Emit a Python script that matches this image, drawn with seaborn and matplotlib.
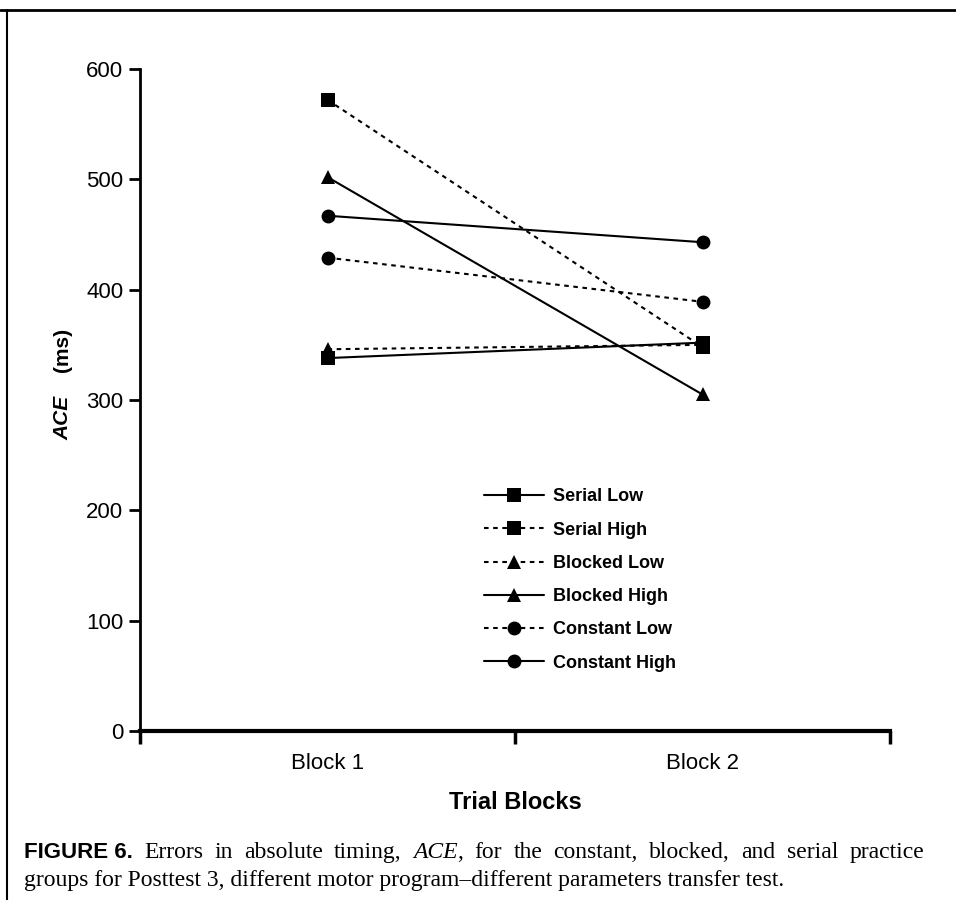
import pandas as pd
import seaborn as sns
import matplotlib.pyplot as plt
from matplotlib.lines import Line2D

# data
blocks = ['Block 1', 'Block 2']
groups = ['Serial Low', 'Serial High', 'Blocked Low', 'Blocked High', 'Constant Low', 'Constant High']
serial_low = [338, 352]
serial_high = [572, 348]
blocked_low = [346, 350]
blocked_high = [502, 305]
constant_low = [429, 389]
constant_high = [467, 443]

values = [serial_low, serial_high, blocked_low, blocked_high, constant_low, constant_high]
rows = []
for g, v in zip(groups, values):
    for b, y in zip(blocks, v):
        rows.append({'block': b, 'ace': y, 'group': g})
df = pd.DataFrame(rows)

sns.set_style('white')
plt.rcParams['font.family'] = ['Liberation Sans', 'DejaVu Sans']
plt.rcParams['text.color'] = 'black'
plt.rcParams['axes.labelcolor'] = 'black'
plt.rcParams['xtick.color'] = 'black'
plt.rcParams['ytick.color'] = 'black'

fig = plt.figure(figsize=(9.56, 9.0), dpi=100)
ax = fig.add_axes([140 / 956, 1 - 731 / 900, 750 / 956, 662 / 900])

dash = (2.2, 2.2)
dashes = {'Serial Low': '', 'Serial High': dash, 'Blocked Low': dash,
          'Blocked High': '', 'Constant Low': dash, 'Constant High': ''}
markers = {'Serial Low': 's', 'Serial High': 's', 'Blocked Low': '^',
           'Blocked High': '^', 'Constant Low': 'o', 'Constant High': 'o'}

sns.lineplot(data=df, x='block', y='ace', hue='group', style='group',
             hue_order=groups, style_order=groups,
             palette={g: 'black' for g in groups}, dashes=dashes, markers=markers,
             markersize=10, markeredgewidth=0, linewidth=1.5, ax=ax)

ax.set_ylim(0, 600)
ax.set_xlim(-0.5, 1.5)
ax.set_yticks([0, 100, 200, 300, 400, 500, 600])
ax.set_xticks([-0.5, 0.5, 1.5])
ax.set_xticklabels(['', '', ''])
ax.set_xticks([0, 1], minor=True)
ax.set_xticklabels(blocks, minor=True)
ax.tick_params(axis='x', which='major', bottom=True, direction='out', length=9, width=2.5)
ax.tick_params(axis='x', which='minor', bottom=True, length=0, pad=16, labelsize=16)
ax.tick_params(axis='y', left=True, direction='out', length=8, width=2, labelsize=16, pad=4)

sns.despine(ax=ax)
ax.spines['left'].set_linewidth(2)
ax.spines['bottom'].set_linewidth(3)
ax.spines['left'].set_color('black')
ax.spines['bottom'].set_color('black')

ax.set_xlabel('Trial Blocks', fontsize=17, fontweight='bold', labelpad=12)
ax.set_ylabel('')

# y label: italic ACE + (ms)
t1 = fig.text(63 / 956, 1 - 418 / 900, 'ACE', rotation=90, fontsize=15,
              fontweight='bold', style='italic', ha='center', va='center')
ax.annotate('    (ms)', xy=(0.5, 1), xycoords=t1, rotation=90, fontsize=15,
            fontweight='bold', ha='center', va='bottom')

handles, labels = ax.get_legend_handles_labels()
ax.legend(handles, labels, loc='center', bbox_to_anchor=(0.587, 0.228), frameon=False,
          prop={'weight': 'bold', 'size': 13}, handlelength=3.3, handletextpad=0.5,
          labelspacing=0.9)

# border of the figure box
fig.add_artist(Line2D([0, 1], [1 - 10 / 900, 1 - 10 / 900], transform=fig.transFigure,
                      color='black', lw=2))
fig.add_artist(Line2D([7 / 956, 7 / 956], [0, 1 - 10 / 900], transform=fig.transFigure,
                      color='black', lw=1.5))

# caption, first line justified like the printed page
serif = ['Liberation Serif', 'DejaVu Serif']
line1 = [('Errors', 'normal', True), ('in', 'normal', True), ('absolute', 'normal', True),
         ('timing,', 'normal', True), ('ACE', 'italic', True), (',', 'normal', False),
         ('for', 'normal', True), ('the', 'normal', True), ('constant,', 'normal', True),
         ('blocked,', 'normal', True), ('and', 'normal', True), ('serial', 'normal', True),
         ('practice', 'normal', True)]
y1 = 1 - 858 / 900
c1 = fig.text(24 / 956, y1, 'FIGURE 6.', fontsize=16, fontweight='bold', va='baseline')
renderer = fig.canvas.get_renderer()
x0 = c1.get_window_extent(renderer).x1
words = []
for w, st, sp in line1:
    t = fig.text(0, y1, w, fontsize=17, family=serif, style=st, va='baseline')
    words.append((t, t.get_window_extent(renderer).width, sp))
right = 924
n_gaps = sum(1 for _, _, sp in words if sp)
gap = (right - x0 - sum(wd for _, wd, _ in words)) / n_gaps
x = x0
for t, wd, sp in words:
    if sp:
        x += gap
    t.set_x(x / 956)
    x += wd

fig.text(24 / 956, 1 - 886 / 900,
         'groups for Posttest 3, different motor program\u2013different parameters transfer test.',
         fontsize=17, family=serif, va='baseline')

fig.savefig('out.png', dpi=100)
